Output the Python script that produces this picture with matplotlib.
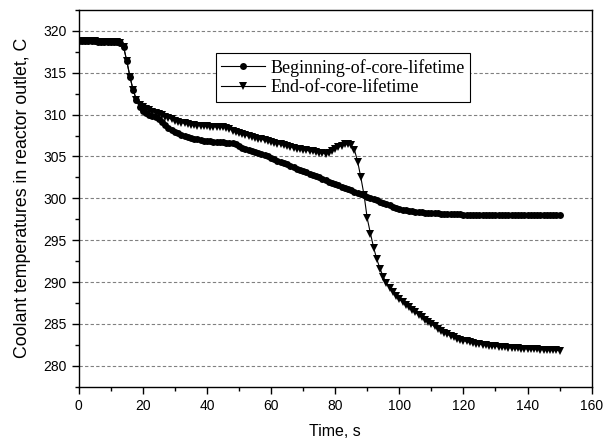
import matplotlib
matplotlib.use("Agg")
import matplotlib.pyplot as plt
from matplotlib.ticker import MultipleLocator

# Time, s (one sample per second)
time_s = [
    0, 1, 2, 3, 4, 5, 6, 7, 8, 9, 10, 11, 12, 13, 14, 15, 16, 17, 18, 19,
    20, 21, 22, 23, 24, 25, 26, 27, 28, 29, 30, 31, 32, 33, 34, 35, 36, 37, 38, 39,
    40, 41, 42, 43, 44, 45, 46, 47, 48, 49, 50, 51, 52, 53, 54, 55, 56, 57, 58, 59,
    60, 61, 62, 63, 64, 65, 66, 67, 68, 69, 70, 71, 72, 73, 74, 75, 76, 77, 78, 79,
    80, 81, 82, 83, 84, 85, 86, 87, 88, 89, 90, 91, 92, 93, 94, 95, 96, 97, 98, 99,
    100, 101, 102, 103, 104, 105, 106, 107, 108, 109, 110, 111, 112, 113, 114, 115, 116, 117, 118, 119,
    120, 121, 122, 123, 124, 125, 126, 127, 128, 129, 130, 131, 132, 133, 134, 135, 136, 137, 138, 139,
    140, 141, 142, 143, 144, 145, 146, 147, 148, 149, 150,
]

# Beginning-of-core-lifetime coolant temperature, C
bol_temp = [
    318.8, 318.8, 318.8, 318.8, 318.75, 318.75, 318.7, 318.7, 318.7, 318.7,
    318.7, 318.7, 318.65, 318.6, 318.1, 316.4, 314.5, 312.9, 311.8, 310.9,
    310.4, 310.2, 310.0, 309.85, 309.7, 309.5, 309.15, 308.8, 308.45, 308.15,
    307.9, 307.75, 307.6, 307.45, 307.35, 307.25, 307.15, 307.05, 306.95, 306.9,
    306.85, 306.8, 306.75, 306.72, 306.7, 306.68, 306.67, 306.66, 306.62, 306.45,
    306.25, 306.05, 305.9, 305.75, 305.6, 305.5, 305.4, 305.3, 305.15, 305.0,
    304.85, 304.65, 304.5, 304.35, 304.2, 304.05, 303.9, 303.7, 303.55, 303.4,
    303.25, 303.1, 302.95, 302.8, 302.65, 302.5, 302.35, 302.2, 302.0, 301.85,
    301.7, 301.55, 301.4, 301.25, 301.1, 300.95, 300.8, 300.65, 300.5, 300.35,
    300.2, 300.05, 299.9, 299.75, 299.6, 299.45, 299.3, 299.15, 299.0, 298.85,
    298.75, 298.65, 298.55, 298.5, 298.45, 298.4, 298.37, 298.34, 298.3, 298.28,
    298.25, 298.22, 298.2, 298.18, 298.16, 298.14, 298.12, 298.1, 298.09, 298.08,
    298.07, 298.06, 298.05, 298.04, 298.04, 298.03, 298.03, 298.02, 298.02, 298.01,
    298.01, 298.0, 298.0, 298.0, 298.0, 298.0, 298.0, 298.0, 298.0, 298.0,
    298.0, 298.0, 298.0, 298.0, 298.0, 298.0, 298.0, 298.0, 297.98, 297.97,
    297.96,
]

# End-of-core-lifetime coolant temperature, C
eol_temp = [
    318.8, 318.8, 318.8, 318.8, 318.75, 318.75, 318.7, 318.7, 318.7, 318.7,
    318.7, 318.7, 318.65, 318.6, 318.1, 316.4, 314.5, 312.9, 311.8, 311.2,
    310.95, 310.7, 310.5, 310.35, 310.2, 310.05, 309.9, 309.75, 309.6, 309.45,
    309.3, 309.15, 309.05, 308.95, 308.9, 308.8, 308.75, 308.7, 308.68, 308.65,
    308.6, 308.57, 308.55, 308.52, 308.5, 308.5, 308.45, 308.3, 308.1, 307.9,
    307.75, 307.65, 307.55, 307.45, 307.35, 307.25, 307.15, 307.05, 306.95, 306.85,
    306.75, 306.65, 306.55, 306.45, 306.35, 306.25, 306.15, 306.05, 305.95, 305.88,
    305.8, 305.73, 305.66, 305.6, 305.53, 305.46, 305.4, 305.35, 305.45, 305.65,
    305.9, 306.1, 306.3, 306.45, 306.5, 306.35, 305.8, 304.4, 302.5, 300.4,
    297.6, 295.8, 294.1, 292.7, 291.6, 290.6, 289.9, 289.3, 288.8, 288.35,
    287.95, 287.6, 287.3, 287.0, 286.7, 286.4, 286.1, 285.8, 285.5, 285.2,
    284.95, 284.7, 284.45, 284.2, 283.95, 283.75, 283.55, 283.4, 283.25, 283.1,
    283.0, 282.9, 282.8, 282.72, 282.65, 282.58, 282.52, 282.46, 282.41, 282.36,
    282.32, 282.28, 282.24, 282.2, 282.17, 282.14, 282.11, 282.08, 282.06, 282.04,
    282.02, 282.0, 281.98, 281.96, 281.94, 281.92, 281.9, 281.88, 281.86, 281.84,
    281.82,
]

series_labels = ["Beginning-of-core-lifetime", "End-of-core-lifetime"]
x_label = "Time, s"
y_label = "Coolant temperatures in reactor outlet, C"

plt.rcParams["font.family"] = ["Liberation Sans", "DejaVu Sans"]

fig = plt.figure(figsize=(6.12, 4.43), dpi=100)
ax = fig.add_axes([0.1286, 0.1271, 0.8382, 0.8503])

ax.plot(time_s, bol_temp, color="black", lw=0.8, marker="o", ms=5,
        markeredgewidth=0, label=series_labels[0], zorder=3)
ax.plot(time_s, eol_temp, color="black", lw=0.8, marker="v", ms=5.5,
        markeredgewidth=0, label=series_labels[1], zorder=3)

ax.set_xlim(0, 160)
ax.set_ylim(277.5, 322.5)
ax.xaxis.set_major_locator(MultipleLocator(20))
ax.xaxis.set_minor_locator(MultipleLocator(10))
ax.yaxis.set_major_locator(MultipleLocator(5))
ax.yaxis.set_minor_locator(MultipleLocator(2.5))

ax.yaxis.grid(True, which="major", color="#808080", linestyle=(0, (3, 2)), lw=0.8)
ax.set_axisbelow(True)

for sp in ax.spines.values():
    sp.set_linewidth(1.0)
    sp.set_color("black")

ax.tick_params(which="major", direction="out", length=5, width=1.0,
               labelsize=10, colors="black")
ax.tick_params(which="minor", direction="out", length=3, width=1.0)

ax.set_xlabel(x_label, fontsize=11.5, labelpad=8)
ax.set_ylabel(y_label, fontsize=12.8, labelpad=9)

leg = ax.legend(loc="upper left", bbox_to_anchor=(0.2676, 0.885),
                borderaxespad=0, frameon=True, fancybox=False,
                edgecolor="black", framealpha=1,
                prop={"family": ["Liberation Serif", "DejaVu Serif"], "size": 13},
                handlelength=2.4, handletextpad=0.3, borderpad=0.3,
                labelspacing=0.15)
leg.get_frame().set_linewidth(0.8)

fig.savefig("out.png", dpi=100)
